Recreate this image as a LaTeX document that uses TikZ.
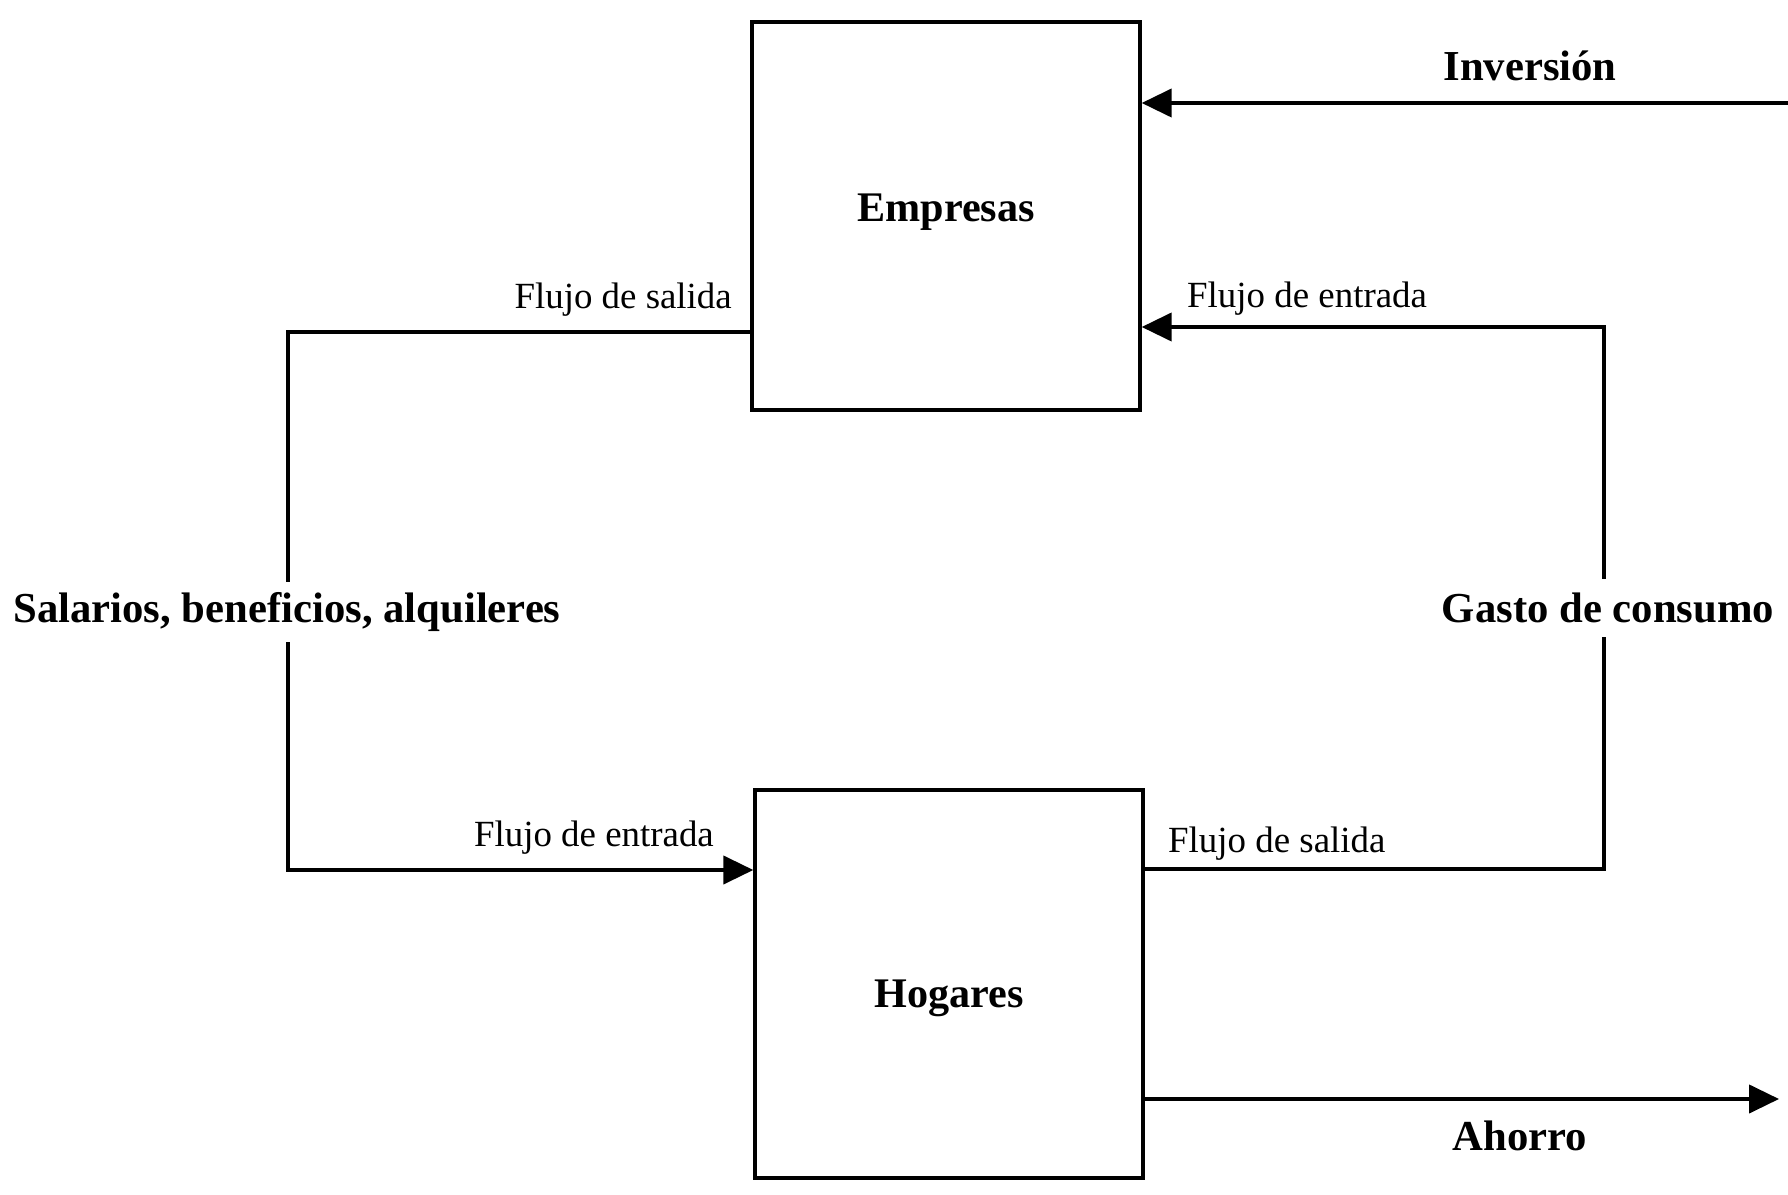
\documentclass[tikz,border=0pt]{standalone}
\usepackage{fontspec}
\setmainfont{Liberation Serif}
\usetikzlibrary{arrows.meta,positioning}

\begin{document}
\begin{tikzpicture}[x=0.02cm,y=-0.02cm,
  sector/.style={draw,line width=2pt,minimum width=7.76cm,minimum height=7.76cm,inner sep=0pt},
  sectortext/.style={font=\fontsize{24}{28}\selectfont\bfseries},
  flow/.style={line width=2pt},
  flowarrow/.style={flow,-{Triangle[length=17pt,width=16pt]}},
  biglabel/.style={font=\fontsize{24.3}{28}\selectfont\bfseries},
  smalllabel/.style={font=\fontsize{21}{25}\selectfont}]
\useasboundingbox (0,0) rectangle (1788,1195);
\node[sector,label={[sectortext,yshift=2pt]center:Empresas}] (emp) at (946,216) {};
\node[sector,label={[sectortext,yshift=-8pt]center:Hogares}] (hog) at (949,984) {};
\coordinate (inv) at (1788,103);
\coordinate (ahr) at (1779,1099);
\coordinate (c1) at (288,332);
\coordinate (c2) at (288,870);
\coordinate (c3) at (1604,327);
\coordinate (c4) at (1604,869);
\draw[flowarrow] (inv) -- (inv -| emp.east);
\draw[flowarrow] (c1 -| emp.west) -- (c1) -- (c2) -- (c2 -| hog.west);
\draw[flowarrow] (c4 -| hog.east) -- (c4) -- (c3) -- (c3 -| emp.east);
\draw[flowarrow] (ahr -| hog.east) -- (ahr);
\node[biglabel] (invl) at (1530,66) {Inversión};
\node[biglabel] (ahol) at (1520,1136) {Ahorro};
\node[biglabel,fill=white,inner ysep=6pt] (sall) at (287,612) {Salarios, beneficios, alquileres};
\node[biglabel,fill=white,inner ysep=8pt] (gasl) at (1608,608) {Gasto de consumo};
\node[smalllabel,anchor=east] (empsal) at (738,300) {Flujo de salida};
\node[smalllabel,anchor=west] (empent) at (1181,299) {Flujo de entrada};
\node[smalllabel,anchor=east] (hogent) at (720,838) {Flujo de entrada};
\node[smalllabel,anchor=west] (hogsal) at (1162,844) {Flujo de salida};
\end{tikzpicture}
\end{document}
